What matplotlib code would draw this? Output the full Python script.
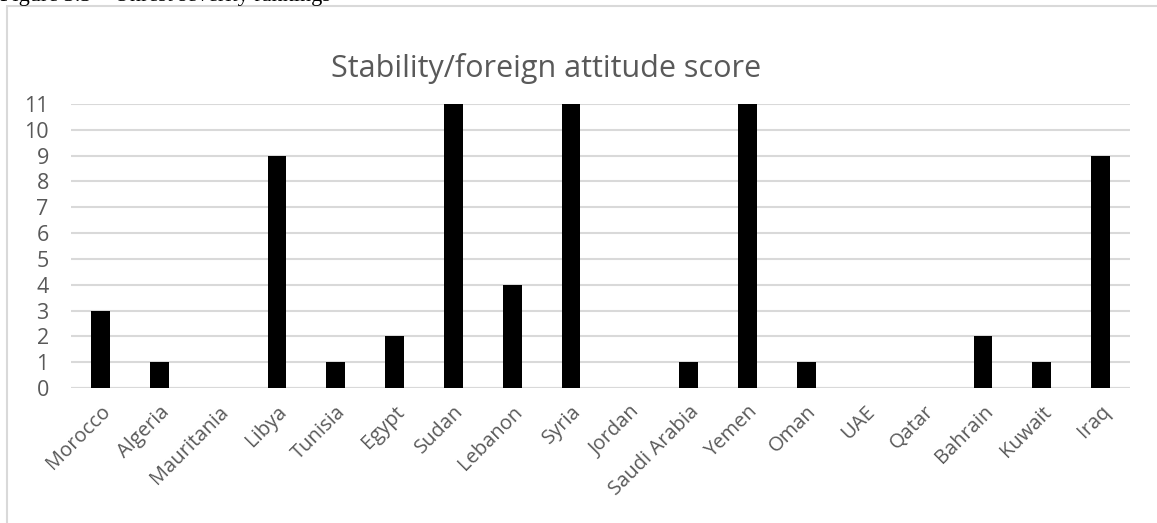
import matplotlib.pyplot as plt
from matplotlib.patches import Rectangle

# Scores per country
countries = ['Morocco', 'Algeria', 'Mauritania', 'Libya', 'Tunisia', 'Egypt',
             'Sudan', 'Lebanon', 'Syria', 'Jordan', 'Saudi Arabia', 'Yemen',
             'Oman', 'UAE', 'Qatar', 'Bahrain', 'Kuwait', 'Iraq']
scores = [3, 1, 0, 9, 1, 2, 11, 4, 11, 0, 1, 11, 1, 0, 0, 2, 1, 9]
yticks = list(range(0, 12))

TEXT = '#595959'
GRID = '#d9d9d9'

fig = plt.figure(figsize=(11.57, 5.23), dpi=100)
W, H = 1157, 523

# chart area frame (runs off the right and bottom edges)
fig.patches.append(Rectangle((7 / W, -0.1), 1.2, (523 - 6) / H + 0.1,
                             transform=fig.transFigure, fill=False,
                             edgecolor=GRID, linewidth=1.5))

# caption above the chart, mostly cut off
fig.text(0, 1 - 1.5 / H, 'Figure 3.3 \u2013 Unrest severity rankings',
         family='Liberation Serif', fontsize=16, ha='left', va='baseline')

ax = fig.add_axes([71 / W, 1 - 388 / H, (1130 - 71) / W, (388 - 104) / H])
x = range(len(countries))
ax.bar(x, scores, width=0.32, color='black', zorder=3)

ax.set_xlim(-0.5, len(countries) - 0.5)
ax.set_ylim(0, 11)
ax.set_yticks(yticks)
ax.yaxis.grid(True, color=GRID, linewidth=1.5, zorder=0)
for s in ax.spines.values():
    s.set_visible(False)
ax.axhline(0, color=GRID, linewidth=1.5, zorder=2)
ax.tick_params(length=0)
ax.tick_params(axis='y', labelsize=15.5, labelcolor=TEXT, pad=16)

ax.set_xticks(list(x))
ax.set_xticklabels(countries, rotation=45, ha='right', rotation_mode='anchor',
                   fontsize=14.5, color=TEXT, family='Open Sans')
ax.tick_params(axis='x', pad=10)
for lab in ax.get_yticklabels():
    lab.set_family('Open Sans')

fig.text(546 / W, 1 - 68 / H, 'Stability/foreign attitude score',
         family='Open Sans', fontsize=22, color=TEXT, ha='center', va='center')

fig.savefig('out.png', dpi=100)
